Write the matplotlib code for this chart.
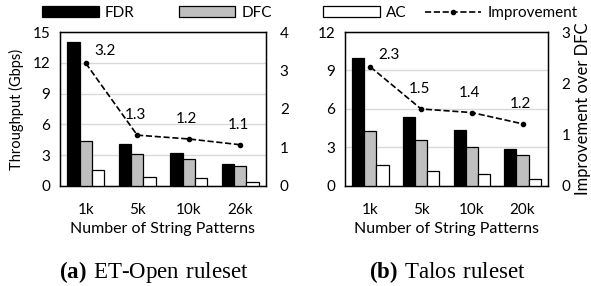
import matplotlib.pyplot as plt
import numpy as np

plt.rcParams['font.family'] = ['Lato', 'DejaVu Sans']
plt.rcParams['font.size'] = 11
plt.rcParams['mathtext.fontset'] = 'custom'
plt.rcParams['mathtext.bf'] = 'Liberation Serif:bold'
plt.rcParams['mathtext.rm'] = 'Liberation Serif'

series = ["FDR", "DFC", "AC"]
colors = ["black", "#bfbfbf", "white"]

et_labels = ["1k", "5k", "10k", "26k"]
et_fdr = [14.0, 4.1, 3.25, 2.1]
et_dfc = [4.4, 3.1, 2.65, 1.95]
et_ac = [1.55, 0.85, 0.75, 0.35]
et_impr = [3.19, 1.32, 1.22, 1.07]
et_impr_txt = ["3.2", "1.3", "1.2", "1.1"]

talos_labels = ["1k", "5k", "10k", "20k"]
talos_fdr = [10.0, 5.35, 4.35, 2.9]
talos_dfc = [4.3, 3.55, 3.0, 2.4]
talos_ac = [1.65, 1.15, 0.95, 0.55]
talos_impr = [2.32, 1.5, 1.43, 1.21]
talos_impr_txt = ["2.3", "1.5", "1.4", "1.2"]

fig = plt.figure(figsize=(5.91, 2.86), dpi=100)
ax1 = fig.add_axes([0.1015, 0.35, 0.3485, 0.538])
ax2 = fig.add_axes([0.5838, 0.35, 0.3432, 0.538])


def draw(ax, labels, fdr, dfc, ac, impr, impr_txt, ymax, rmax):
    x = np.arange(len(labels))
    w = 0.24
    handles = []
    for k, (vals, c, name) in enumerate(zip([fdr, dfc, ac], colors, series)):
        h = ax.bar(x + (k - 1) * w, vals, w, color=c, edgecolor="black",
                   linewidth=0.9, label=name, zorder=3)
        handles.append(h)
    ax.set_xlim(-0.5, len(labels) - 0.5)
    ax.set_ylim(0, ymax)
    ax.set_yticks(np.arange(0, ymax + 1, 3))
    ax.yaxis.grid(True, color="#d9d9d9", linewidth=1, zorder=0)
    ax.set_xticks(x)
    ax.set_xticklabels(labels)
    ax.tick_params(axis="y", length=0, pad=7)
    ax.tick_params(axis="x", length=0, pad=12)
    ax.set_xlabel("Number of String Patterns", labelpad=4, fontsize=11.5)
    for s in ax.spines.values():
        s.set_linewidth(1)

    rax = ax.twinx()
    line, = rax.plot(x, impr, "k--", marker="o", markersize=3, linewidth=1.2,
                     label="Improvement", zorder=5)
    handles.append(line)
    rax.set_ylim(0, rmax)
    rax.set_yticks(np.arange(0, rmax + 1, 1))
    rax.tick_params(length=0, pad=10)
    for i, (xi, yi, t) in enumerate(zip(x, impr, impr_txt)):
        off = (19, 12) if i == 0 else (-2, 20)
        rax.annotate(t, (xi, yi), xytext=off, textcoords="offset pixels",
                     ha="center", va="center")
    return handles, rax


h1, r1 = draw(ax1, et_labels, et_fdr, et_dfc, et_ac, et_impr, et_impr_txt, 15, 4)
ax1.set_ylabel("Throughput (Gbps)", labelpad=6, fontsize=10.5)
h2, r2 = draw(ax2, talos_labels, talos_fdr, talos_dfc, talos_ac, talos_impr, talos_impr_txt, 12, 3)
r2.set_ylabel("Improvement over DFC", labelpad=3, fontsize=12)

fig.text(0.261, 0.049, r"$\mathbf{(a)}\ \mathrm{ET\text{-}Open\ ruleset}$", ha="center", va="center",
         fontsize=16.5)
fig.text(0.756, 0.049, r"$\mathbf{(b)}\ \mathrm{Talos\ ruleset}$", ha="center", va="center",
         fontsize=16.5)

fig.legend([h1[0], h1[1]], ["FDR", "DFC"], loc="center left",
           bbox_to_anchor=(42 / 591, 1 - 13 / 286), ncol=2, frameon=False,
           handlelength=3.7, handleheight=0.75, columnspacing=2.9,
           handletextpad=0.4, borderpad=0, borderaxespad=0, fontsize=11)
fig.legend([h2[2], h2[3]], ["AC", "Improvement"], loc="center left",
           bbox_to_anchor=(323 / 591, 1 - 13 / 286), ncol=2, frameon=False,
           handlelength=3.7, handleheight=0.75, columnspacing=1.2,
           handletextpad=0.4, borderpad=0, borderaxespad=0, fontsize=11)

fig.savefig("out.png", dpi=100)
